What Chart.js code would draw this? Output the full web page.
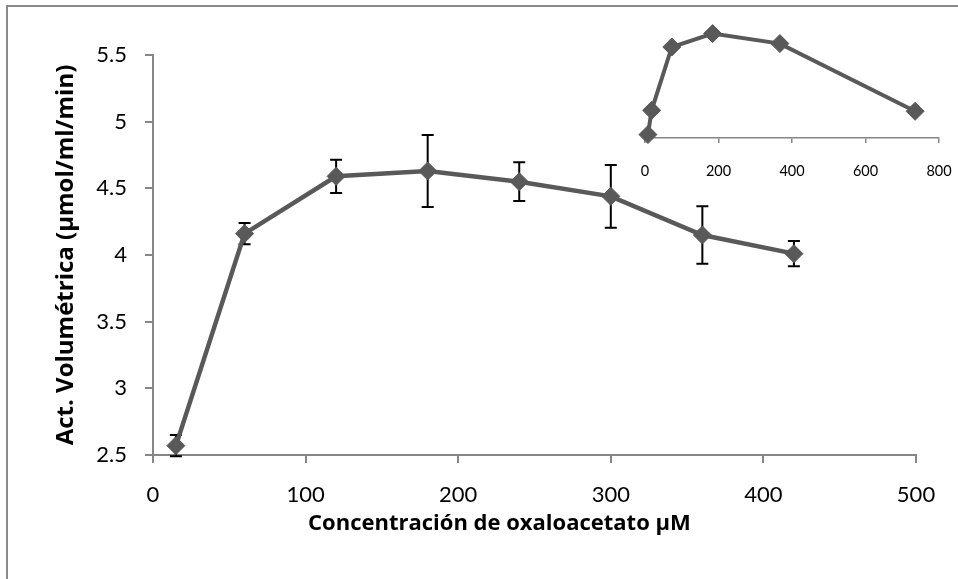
<!DOCTYPE html>
<html>
<head>
<meta charset="utf-8">
<script src="https://cdn.jsdelivr.net/npm/chart.js@4.4.1/dist/chart.umd.min.js"></script>
<style>
  html, body { margin: 0; padding: 0; background: #fff; overflow: hidden; }
  #wrap { position: relative; width: 958px; height: 579px; overflow: hidden; }
  #frame { position: absolute; left: 6px; top: 5px; width: 1000px; height: 700px;
           border-left: 2px solid #8a8a8a; border-top: 2px solid #8a8a8a; }
  #main { position: absolute; left: 0; top: 0; }
  #inset { position: absolute; left: 600px; top: 0; }
</style>
</head>
<body>
<div id="wrap">
  <div id="frame"></div>
  <canvas id="main" width="958" height="579" style="width:958px;height:579px"></canvas>
  <canvas id="inset" width="380" height="190" style="width:380px;height:190px"></canvas>
</div>
<script>
// Main series: volumetric activity vs oxaloacetate concentration
const concentracion = [15, 60, 120, 180, 240, 300, 360, 420];
const actividad = [2.57, 4.16, 4.59, 4.63, 4.55, 4.44, 4.15, 4.01];
const errorActividad = [0.08, 0.08, 0.125, 0.27, 0.145, 0.235, 0.215, 0.095];
const xTicks = [0, 100, 200, 300, 400, 500];
const yTicks = [2.5, 3, 3.5, 4, 4.5, 5, 5.5];
const xTitle = 'Concentración de oxaloacetato µM';
const yTitle = 'Act. Volumétrica (µmol/ml/min)';

// Inset series: wider concentration range
const insetConcentracion = [8, 18, 73, 184, 367, 735];
const insetActividad = [0.34, 2.77, 9.1, 10.44, 9.44, 2.67];
const insetXTicks = [0, 200, 400, 600, 800];

const FONT = 'Lato, "Open Sans", sans-serif';
const TITLE_FONT = '"Open Sans", Lato, sans-serif';
const AXIS = '#868686';
const SERIES = '#595959';

const toPoints = (xs, ys) => xs.map((v, i) => ({ x: v, y: ys[i] }));
const fixedTicks = list => scale => { scale.ticks = list.map(v => ({ value: v })); };
const plainLabel = v => String(v);

// Error bars drawn under the line and markers
const errorBars = {
  id: 'errorBars',
  beforeDatasetsDraw(chart) {
    const { ctx, scales: { x, y } } = chart;
    ctx.save();
    ctx.strokeStyle = '#000';
    ctx.lineWidth = 2;
    concentracion.forEach((c, i) => {
      const px = x.getPixelForValue(c);
      const top = y.getPixelForValue(actividad[i] + errorActividad[i]);
      const bot = y.getPixelForValue(actividad[i] - errorActividad[i]);
      ctx.beginPath();
      ctx.moveTo(px, top); ctx.lineTo(px, bot);
      ctx.moveTo(px - 6, top); ctx.lineTo(px + 6, top);
      ctx.moveTo(px - 6, bot); ctx.lineTo(px + 6, bot);
      ctx.stroke();
    });
    ctx.restore();
  }
};

// Horizontal axis title, set a little left of the plot centre
const xAxisTitle = {
  id: 'xAxisTitle',
  afterDraw(chart) {
    const { ctx, scales: { x } } = chart;
    ctx.save();
    ctx.font = 'bold 22px ' + TITLE_FONT;
    ctx.fillStyle = '#000';
    ctx.textAlign = 'center';
    ctx.textBaseline = 'middle';
    ctx.fillText(xTitle, x.getPixelForValue(227), x.top + 69);
    ctx.restore();
  }
};

new Chart(document.getElementById('main'), {
  type: 'scatter',
  data: {
    datasets: [{
      data: toPoints(concentracion, actividad),
      showLine: true,
      borderColor: SERIES,
      backgroundColor: SERIES,
      borderWidth: 4.5,
      pointStyle: 'rectRot',
      pointRadius: 9,
      pointBorderWidth: 1,
      pointBorderColor: SERIES,
      pointBackgroundColor: SERIES,
      clip: false
    }]
  },
  options: {
    responsive: false,
    animation: false,
    layout: { padding: { left: 0, right: 42, top: 55, bottom: 0 } },
    plugins: { legend: { display: false }, tooltip: { enabled: false } },
    scales: {
      x: {
        type: 'linear', position: 'bottom', min: 0, max: 500,
        afterBuildTicks: fixedTicks(xTicks),
        afterFit: s => { s.height = 124; },
        border: { color: AXIS, width: 2 },
        grid: { drawOnChartArea: false, drawTicks: true, tickLength: 8, color: AXIS, lineWidth: 2 },
        ticks: { color: '#000', padding: 19, font: { family: FONT, size: 22 }, maxRotation: 0, callback: plainLabel }
      },
      y: {
        type: 'linear', min: 2.5, max: 5.5,
        afterBuildTicks: fixedTicks(yTicks),
        afterFit: s => { s.width = 153; },
        border: { color: AXIS, width: 2 },
        grid: { drawOnChartArea: false, drawTicks: true, tickLength: 8, color: AXIS, lineWidth: 2 },
        ticks: { color: '#000', padding: 18, font: { family: FONT, size: 22 }, callback: plainLabel },
        title: { display: true, text: yTitle, color: '#000',
                 font: { family: TITLE_FONT, size: 24, weight: 'bold' }, padding: { top: 52, bottom: 0 } }
      }
    }
  },
  plugins: [errorBars, xAxisTitle]
});

new Chart(document.getElementById('inset'), {
  type: 'scatter',
  data: {
    datasets: [{
      data: toPoints(insetConcentracion, insetActividad),
      showLine: true,
      borderColor: SERIES,
      backgroundColor: SERIES,
      borderWidth: 4,
      pointStyle: 'rectRot',
      pointRadius: 9,
      pointBorderWidth: 1,
      pointBorderColor: SERIES,
      pointBackgroundColor: SERIES,
      clip: false
    }]
  },
  options: {
    responsive: false,
    animation: false,
    layout: { autoPadding: false, padding: { left: 0, right: 41, top: 18, bottom: 0 } },
    plugins: { legend: { display: false }, tooltip: { enabled: false } },
    scales: {
      x: {
        type: 'linear', position: 'bottom', min: 0, max: 800,
        afterBuildTicks: fixedTicks(insetXTicks),
        afterFit: s => { s.height = 52; },
        border: { color: AXIS, width: 1.5 },
        grid: { drawOnChartArea: false, drawTicks: true, tickLength: 5, color: AXIS, lineWidth: 1.5 },
        ticks: { color: '#000', padding: 20, font: { family: FONT, size: 14.5 }, maxRotation: 0, callback: plainLabel }
      },
      y: {
        type: 'linear', min: 0, max: 12,
        afterFit: s => { s.width = 45; },
        border: { display: false },
        grid: { display: false },
        ticks: { display: false }
      }
    }
  }
});
</script>
</body>
</html>
